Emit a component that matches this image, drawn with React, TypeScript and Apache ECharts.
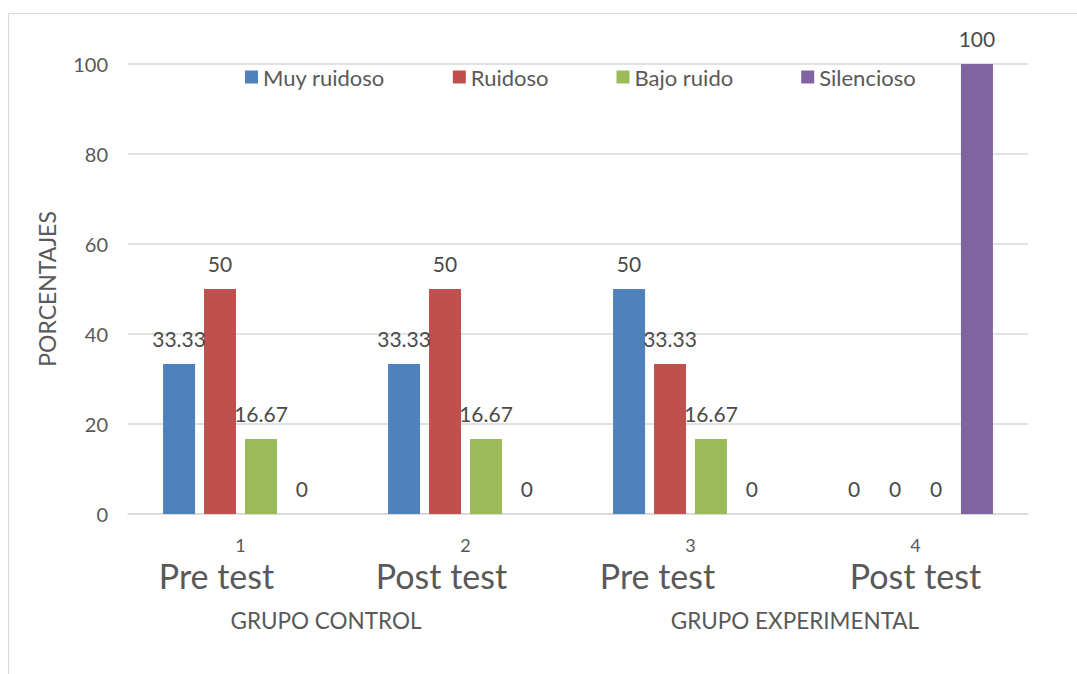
import React, { useEffect, useRef } from "react";
import * as echarts from "echarts";

const categories = ["1", "2", "3", "4"];
const phases = ["Pre test", "Post test", "Pre test", "Post test"];
const groups = ["GRUPO CONTROL", "GRUPO EXPERIMENTAL"];
const seriesNames = ["Muy ruidoso", "Ruidoso", "Bajo ruido", "Silencioso"];
const muyRuidoso = [33.33, 33.33, 50, 0];
const ruidoso = [50, 50, 33.33, 0];
const bajoRuido = [16.67, 16.67, 16.67, 0];
const silencioso = [0, 0, 0, 100];
const yTicks = [0, 20, 40, 60, 80, 100];

const colors = ["#4F81BD", "#C0504D", "#9BBB59", "#8064A2"];
const FONT = "Lato, 'Open Sans', sans-serif";
const phaseOffsets = [-24, -24, -33, 0];
const groupOffsets = [-27, -8];

export default function App() {
  const ref = useRef<HTMLDivElement>(null);
  useEffect(() => {
    if (!ref.current) return;
    const chart = echarts.init(ref.current, undefined, { renderer: "svg" });
    const values = [muyRuidoso, ruidoso, bajoRuido, silencioso];
    const option: any = {
      animation: false,
      backgroundColor: "#ffffff",
      textStyle: { fontFamily: FONT },
      legend: {
        top: 61,
        left: 240,
        itemWidth: 13,
        itemHeight: 13,
        itemGap: 68,
        icon: "rect",
        textStyle: { fontFamily: FONT, fontSize: 22, color: "#595959" },
        data: seriesNames,
      },
      grid: { left: 128, right: 49, top: 64, bottom: 160, containLabel: false },
      xAxis: {
        type: "category",
        data: categories,
        axisLine: { lineStyle: { color: "#d9d9d9", width: 1.5 } },
        axisTick: { show: false },
        axisLabel: { fontFamily: FONT, fontSize: 18, color: "#595959", margin: 22 },
      },
      yAxis: {
        type: "value",
        min: 0,
        max: 100,
        interval: 20,
        name: "PORCENTAJES",
        nameLocation: "middle",
        nameGap: 70,
        nameTextStyle: { fontFamily: FONT, fontSize: 23, color: "#595959" },
        axisLine: { show: false },
        axisTick: { show: false },
        axisLabel: {
          fontFamily: FONT,
          fontSize: 20,
          color: "#595959",
          margin: 20,
          formatter: (v: number) => (yTicks.includes(v) ? String(v) : ""),
        },
        splitLine: { lineStyle: { color: "#d9d9d9", width: 1.5 } },
      },
      series: seriesNames.map((name, i) => ({
        name,
        type: "bar",
        data: values[i],
        barWidth: 32,
        barGap: "28%",
        itemStyle: { color: colors[i] },
        label: {
          show: true,
          position: "top",
          distance: 15,
          fontFamily: FONT,
          fontSize: 21,
          color: "#4a4a4a",
        },
      })),
      graphic: [
        {
          type: "rect",
          shape: { x: 8.5, y: 13.5, width: 1200, height: 800 },
          style: { fill: "none", stroke: "#d9d9d9", lineWidth: 1 },
          silent: true,
          z: -10,
        },
      ],
    };
    chart.setOption(option);

    const xs = categories.map((c, i) => chart.convertToPixel({ xAxisIndex: 0 }, i) as number);
    const extra: any[] = [];
    phases.forEach((p, i) => {
      extra.push({
        type: "text",
        x: xs[i] + phaseOffsets[i],
        y: 575,
        style: {
          text: p,
          fontFamily: FONT,
          fontSize: 34,
          fill: "#595959",
          align: "center",
          verticalAlign: "middle",
        },
      });
    });
    groups.forEach((g, gi) => {
      const cx = (xs[gi * 2] + xs[gi * 2 + 1]) / 2 + groupOffsets[gi];
      extra.push({
        type: "text",
        x: cx,
        y: 620,
        style: {
          text: g,
          fontFamily: FONT,
          fontSize: 22.5,
          fill: "#595959",
          align: "center",
          verticalAlign: "middle",
        },
      });
    });
    chart.setOption({ graphic: [...option.graphic, ...extra] });

    return () => chart.dispose();
  }, []);
  return (
    <div
      ref={ref}
      style={{ position: "fixed", left: 0, top: 0, width: 1077, height: 674 }}
    />
  );
}
